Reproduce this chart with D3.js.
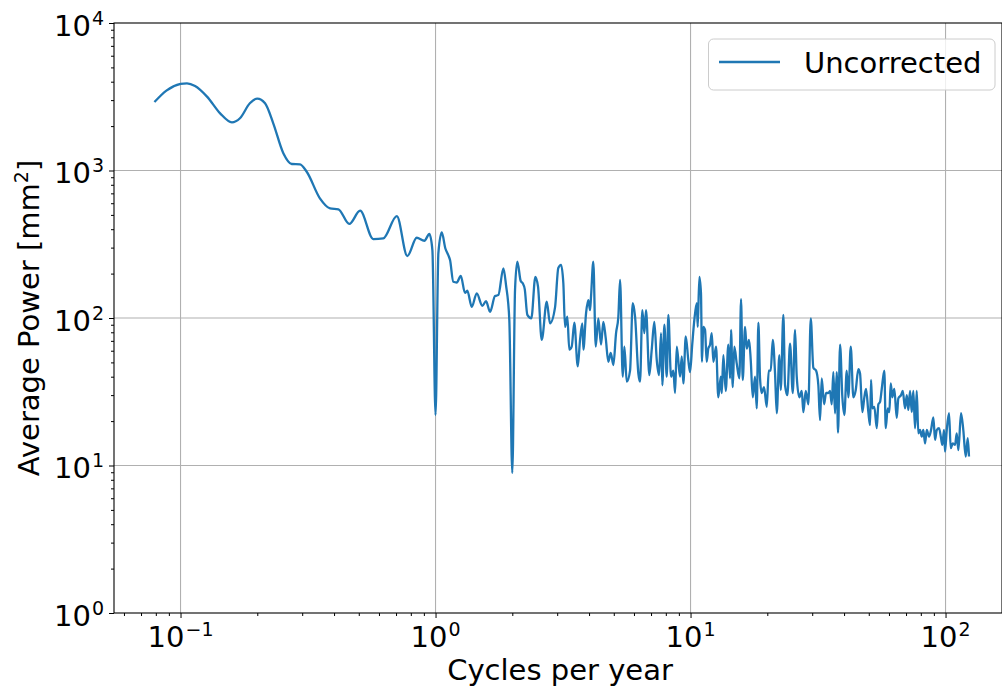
<!DOCTYPE html>
<html>
<head>
<meta charset="utf-8">
<script src="https://cdn.jsdelivr.net/npm/d3@7"></script>
<style>
  body { margin: 0; background: #fff; }
  text { font-family: "DejaVu Sans", sans-serif; fill: #000; }
</style>
</head>
<body>
<div id="chart"></div>
<script>
// spectrum (cycles per year, mm^2)
const freq = [
  0.079, 0.088, 0.100, 0.106, 0.114, 0.127, 0.143, 0.159, 0.171, 0.187,
  0.200, 0.2145, 0.231, 0.253, 0.273, 0.294, 0.3125, 0.352, 0.386, 0.416,
  0.459, 0.506, 0.570, 0.624, 0.705, 0.775, 0.844, 0.904, 0.946, 0.972,
  1.0, 1.026, 1.058, 1.093, 1.122, 1.140, 1.174, 1.211, 1.256, 1.305,
  1.332, 1.387, 1.451, 1.526, 1.578, 1.636, 1.711, 1.763, 1.845, 1.890,
  1.947, 2.0, 2.05, 2.093, 2.158, 2.198, 2.238, 2.291, 2.375, 2.463,
  2.523, 2.609, 2.73, 2.812, 2.942, 3.03, 3.106, 3.171, 3.22, 3.287,
  3.347, 3.42, 3.502, 3.611, 3.687, 3.765, 3.799, 3.893, 3.974, 4.036,
  4.072, 4.157, 4.248, 4.349, 4.457, 4.55, 4.65, 4.76, 4.865, 4.981,
  5.104, 5.211, 5.292, 5.422, 5.502, 5.622, 5.792, 5.935, 6.06, 6.243,
  6.339, 6.471, 6.589, 6.691, 6.893, 7.044, 7.211, 7.37, 7.524, 7.661,
  7.752, 7.894, 8.067, 8.184, 8.386, 8.562, 8.695, 8.831, 9.097, 9.238,
  9.371, 9.577, 9.80, 9.955, 10.16, 10.35, 10.58, 10.67, 10.83, 10.99,
  11.09, 11.22, 11.40, 11.57, 11.74, 11.93, 12.11, 12.29, 12.59, 12.85,
  13.14, 13.26, 13.45, 13.74, 14.07, 14.29, 14.42, 14.64, 14.85, 15.18,
  15.54, 15.78, 16.02, 16.36, 16.61, 16.96, 17.22, 17.54, 17.90, 18.18,
  18.45, 18.73, 19.02, 19.42, 19.90, 20.26, 20.63, 21.01, 21.45, 21.78,
  22.30, 22.58, 23.12, 23.48, 23.97, 24.56, 25.17, 25.70, 26.09, 26.71,
  27.30, 27.70, 28.30, 28.97, 29.61, 30.31, 31.06, 31.71, 32.20, 32.70,
  33.39, 34.0, 34.71, 35.25, 35.79, 36.31, 36.87, 37.44, 37.88, 38.58,
  39.39, 40.10, 40.98, 41.58, 42.49, 43.50, 44.45, 45.50, 46.21, 47.18,
  48.04, 48.78, 49.81, 50.58, 51.04, 51.64, 52.58, 53.73, 54.52, 55.35,
  56.21, 57.54, 58.28, 59.33, 60.20, 60.97, 61.86, 62.98, 64.36, 65.30,
  66.91, 67.96, 69.38, 70.45, 71.48, 72.58, 73.71, 74.77, 75.93, 77.11,
  78.22, 79.43, 80.67, 81.83, 83.11, 84.40, 86.16, 87.73, 89.59, 90.96,
  92.38, 94.30, 96.03, 97.16, 98.65, 99.55, 101.1, 103.2, 104.8, 106.7,
  109.0, 110.6, 112.3, 115.0, 117.4, 120.0, 122.2, 123.6
]

const power = [
  2910, 3480, 3860, 3900, 3740, 3170, 2440, 2120, 2260, 2855,
  3070, 2855, 2090, 1310, 1107, 1100, 981, 648, 554, 546,
  434, 534, 343, 347, 491, 263, 350, 334, 371, 289,
  22, 275, 380, 296, 267, 247, 176, 174, 193, 148,
  153, 119, 147, 121, 130, 110, 141, 143, 217, 167,
  97, 8.9, 155, 241, 178, 172, 157, 105, 99.5, 190,
  163, 71, 129, 92, 118, 218, 229, 172, 87, 102,
  61, 64, 93, 47, 71, 92, 61, 108, 132, 113,
  140, 241, 64, 99.5, 66, 94, 73, 50.5, 58, 48,
  79, 102, 181, 40, 64, 37, 44, 126, 102, 42,
  37, 113, 79, 113, 41, 61, 94, 52, 41, 79,
  35, 90, 40, 105, 40, 44, 31, 64, 40, 55,
  36, 75, 52, 43, 67, 97, 126, 87, 190, 147,
  50.5, 87, 83, 50.5, 62, 66, 79, 50.5, 64, 29,
  40, 31, 56, 32, 66, 39, 83, 34, 64, 49,
  39, 134, 38, 87, 62, 71, 52, 29, 40, 24.4,
  93, 39, 31, 34, 25, 44, 44, 71, 42, 22.6,
  56, 32.5, 105, 35, 30, 67, 31, 83, 40, 29,
  32, 23, 32, 26, 99.5, 46, 44, 35, 20.3, 39,
  26, 31, 31, 32, 26, 43, 22.6, 43, 16.7, 66,
  29, 22, 44, 29, 64, 29, 32.5, 45, 42, 23,
  29, 33, 23, 18.8, 38, 24.4, 25, 17.9, 26, 27,
  33, 44, 17.9, 24.4, 23, 36, 29, 33, 21, 28.5,
  30, 32, 24.4, 30, 23.8, 32, 23, 32, 17.9, 32,
  16.5, 17.4, 15.7, 17.4, 14.1, 17.4, 15.7, 17.4, 21.2, 14.9,
  17.4, 17.9, 15.3, 13.8, 17.4, 12.4, 17.4, 22.6, 13.1, 14.1,
  13.8, 16.5, 12.7, 22.6, 17.4, 11.5, 15.3, 11.5
]

const xTickValues = [0.1, 1, 10, 100]
const xTickExponents = ["\u22121", "0", "1", "2"]
const yTickValues = [1, 10, 100, 1000, 10000]
const yTickExponents = ["0", "1", "2", "3", "4"]
const seriesName = "Uncorrected"
const xLabel = "Cycles per year"
const yLabel = "Average Power [mm"

const width = 1002
const height = 690
const plot = { left: 114, right: 1002, top: 23, bottom: 613 }
const color = "#1f77b4"

const x = d3.scaleLog().domain([0.05484, 166.5]).range([plot.left, plot.right])
const y = d3.scaleLog().domain([1, 10000]).range([plot.bottom, plot.top])

// minor ticks: 2..9 inside every decade
const minor = (scale) => {
  const [a, b] = scale.domain()
  const out = []
  for (let e = Math.floor(Math.log10(a)); e <= Math.ceil(Math.log10(b)); e++) {
    for (let k = 2; k < 10; k++) {
      const v = k * Math.pow(10, e)
      if (v >= a && v <= b) out.push(v)
    }
  }
  return out
}

const svg = d3.select("#chart")
  .append("svg")
  .attr("width", width)
  .attr("height", height)

// grid
svg.append("g")
  .selectAll("line")
  .data(xTickValues)
  .enter()
    .append("line")
    .attr("x1", d => x(d)).attr("x2", d => x(d))
    .attr("y1", plot.top).attr("y2", plot.bottom)
    .attr("stroke", "#b0b0b0")
    .attr("stroke-width", 1.1)

svg.append("g")
  .selectAll("line")
  .data(yTickValues.slice(1, -1))
  .enter()
    .append("line")
    .attr("x1", plot.left).attr("x2", plot.right)
    .attr("y1", d => y(d)).attr("y2", d => y(d))
    .attr("stroke", "#b0b0b0")
    .attr("stroke-width", 1.1)

// data line
const line = d3.line()
  .x(d => x(d[0]))
  .y(d => y(d[1]))
  .curve(d3.curveMonotoneX)

svg.append("path")
  .datum(d3.zip(freq, power))
  .attr("d", line)
  .attr("fill", "none")
  .attr("stroke", color)
  .attr("stroke-width", 2.3)
  .attr("stroke-linejoin", "round")

// frame
svg.append("rect")
  .attr("x", plot.left).attr("y", plot.top)
  .attr("width", plot.right - plot.left).attr("height", plot.bottom - plot.top)
  .attr("fill", "none")
  .attr("stroke", "#000")
  .attr("stroke-width", 1.1)

// axes ticks
const xAxis = svg.append("g").attr("transform", `translate(0,${plot.bottom})`)
xAxis.call(d3.axisBottom(x).tickValues(xTickValues).tickSize(5).tickSizeOuter(0).tickFormat(() => ""))
xAxis.append("g").call(d3.axisBottom(x).tickValues(minor(x)).tickSize(3).tickSizeOuter(0).tickFormat(() => ""))
xAxis.selectAll(".domain").remove()
xAxis.selectAll("line").attr("stroke", "#000").attr("stroke-width", 1)

const yAxis = svg.append("g").attr("transform", `translate(${plot.left},0)`)
yAxis.call(d3.axisLeft(y).tickValues(yTickValues).tickSize(5).tickSizeOuter(0).tickFormat(() => ""))
yAxis.append("g").call(d3.axisLeft(y).tickValues(minor(y)).tickSize(3).tickSizeOuter(0).tickFormat(() => ""))
yAxis.selectAll(".domain").remove()
yAxis.selectAll("line").attr("stroke", "#000").attr("stroke-width", 1)

// tick labels with superscript exponents
const xLabels = svg.append("g")
  .selectAll("text")
  .data(xTickValues)
  .enter()
    .append("text")
    .attr("x", d => x(d))
    .attr("y", 647)
    .attr("text-anchor", "middle")
    .style("font-size", "29px")
xLabels.append("tspan").text("10")
xLabels.append("tspan")
  .attr("dx", 1)
  .attr("dy", -11)
  .style("font-size", "19px")
  .text((d, i) => xTickExponents[i])

const yLabels = svg.append("g")
  .selectAll("text")
  .data(yTickValues)
  .enter()
    .append("text")
    .attr("x", 104)
    .attr("y", d => y(d) + 12.5)
    .attr("text-anchor", "end")
    .style("font-size", "29px")
yLabels.append("tspan").text("10")
yLabels.append("tspan")
  .attr("dx", 1)
  .attr("dy", -11)
  .style("font-size", "19px")
  .text((d, i) => yTickExponents[i])

// axis titles
svg.append("text")
  .attr("x", (plot.left + plot.right) / 2 + 2)
  .attr("y", 680)
  .attr("text-anchor", "middle")
  .style("font-size", "29px")
  .text(xLabel)

const yt = svg.append("text")
  .attr("transform", `translate(39,${(plot.top + plot.bottom) / 2}) rotate(-90)`)
  .attr("text-anchor", "middle")
  .style("font-size", "29px")
yt.append("tspan").text(yLabel)
yt.append("tspan").attr("dy", -11).style("font-size", "19px").text("2")
yt.append("tspan").attr("dy", 11).text("]")

// legend
const legend = svg.append("g")
legend.append("rect")
  .attr("x", 708.5).attr("y", 39)
  .attr("width", 286.5).attr("height", 51)
  .attr("rx", 5)
  .attr("fill", "#fff")
  .attr("fill-opacity", 0.8)
  .attr("stroke", "#cccccc")
  .attr("stroke-width", 1)
legend.append("line")
  .attr("x1", 719).attr("x2", 780)
  .attr("y1", 62).attr("y2", 62)
  .attr("stroke", color)
  .attr("stroke-width", 2.3)
legend.append("text")
  .attr("x", 804)
  .attr("y", 72.5)
  .style("font-size", "29px")
  .text(seriesName)
</script>
</body>
</html>
